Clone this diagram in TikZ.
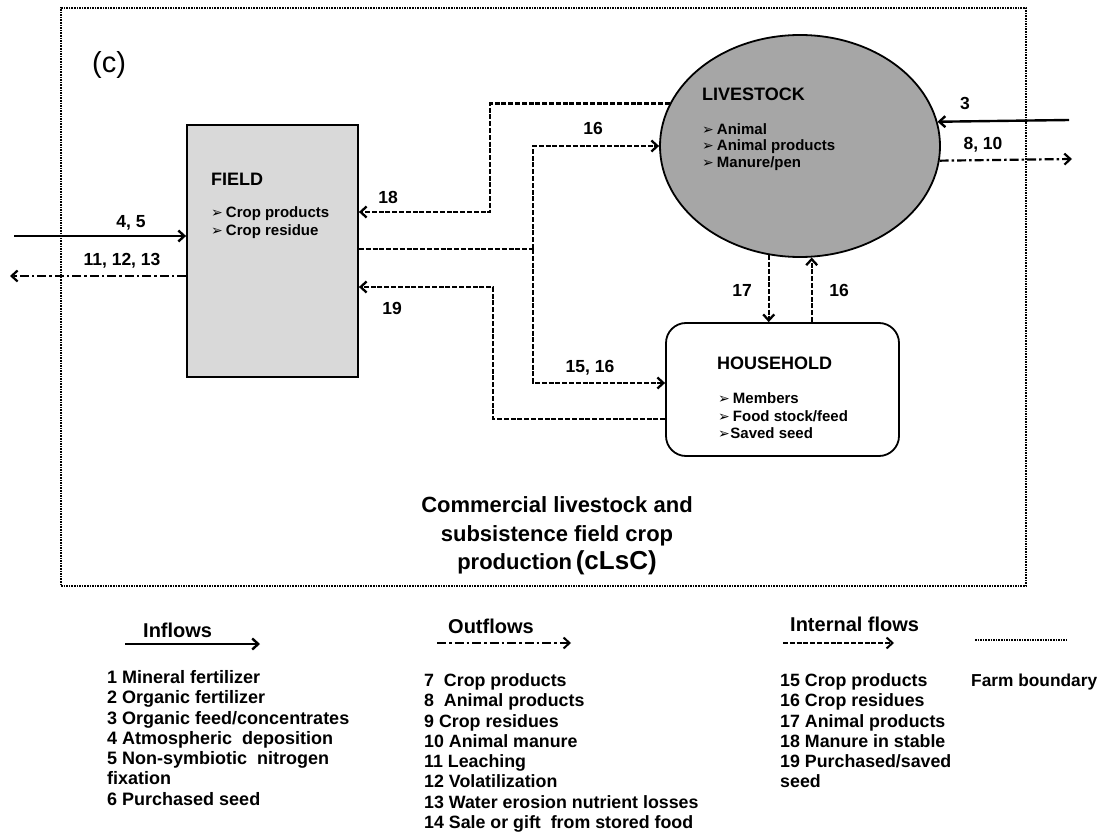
\documentclass[tikz,border=0pt]{standalone}
\usepackage{fontspec}
\setmainfont{Liberation Sans}
\newfontfamily\dingfont{DejaVu Sans}
\usetikzlibrary{arrows.meta,calc,shapes.geometric}
\definecolor{fieldgray}{RGB}{217,217,217}
\definecolor{livegray}{RGB}{166,166,166}
\newcommand{\bulglyph}{{\dingfont\fontsize{14}{12}\selectfont\symbol{"27A2}}}
\newcommand{\bul}{\bulglyph\hspace{3pt}}
\begin{document}
\begin{tikzpicture}[x=1pt,y=-1pt,
  tipx/.tip={Straight Barb[length=6pt,width=11pt]},
  solidarr/.style={line width=2.4pt,-tipx},
  dotarr/.style={line width=2.2pt,dash pattern=on 9pt off 3pt on 2.5pt off 3pt,-tipx},
  intline/.style={line width=2.3pt,dash pattern=on 5pt off 1.8pt},
  intarr/.style={intline,-tipx},
  bnd/.style={line width=2.6pt,dash pattern=on 1.6pt off 1pt},
  lbl/.style={font=\bfseries\fontsize{17.5}{20}\selectfont,inner sep=0pt},
  head/.style={font=\bfseries\fontsize{18}{20}\selectfont,inner sep=0pt,anchor=west},
  itm/.style={font=\bfseries\fontsize{15}{17}\selectfont,inner sep=0pt,anchor=west},
  lghead/.style={font=\bfseries\fontsize{20}{22}\selectfont,inner sep=0pt,anchor=west},
  inl/.style={font=\bfseries\fontsize{18}{20}\selectfont,inner sep=0pt,anchor=base west},
  outl/.style={font=\bfseries\fontsize{17.8}{19}\selectfont,inner sep=0pt,anchor=base west},
]
\useasboundingbox (0,0) rectangle (1109,834);

% farm boundary
\node[bnd,draw,minimum width=965pt,minimum height=578pt,inner sep=0pt] (farm) at (543.5,297) {};

% main boxes
\node[draw,line width=1.8pt,fill=fieldgray,minimum width=171pt,minimum height=252pt,inner sep=0pt] (field) at (272.5,251) {};
\node[draw,line width=1.8pt,fill=livegray,ellipse,minimum width=280pt,minimum height=222pt,inner sep=0pt] (live) at (800,146) {};
\node[draw,line width=1.8pt,rounded corners=20pt,fill=white,minimum width=233pt,minimum height=133pt,inner sep=0pt] (house) at (782.5,389.5) {};

% texts in boxes
\node[head] (fieldT) at (211,179) {FIELD};
\node[itm] (fieldI1) at (211,214) {\bul Crop products};
\node[itm] (fieldI2) at (211,232) {\bul Crop residue};

\node[head] (liveT) at (702,94) {LIVESTOCK};
\node[itm] (liveI1) at (702,129) {\bul Animal};
\node[itm] (liveI2) at (702,147) {\bul Animal products};
\node[itm] (liveI3) at (702,164) {\bul Manure/pen};

\node[head] (houseT) at (717,363) {HOUSEHOLD};
\node[itm] (houseI1) at (718,398) {\bul Members};
\node[itm] (houseI2) at (718,416) {\bul Food stock/feed};
\node[itm] (houseI3) at (718,433) {\bulglyph\hspace{0.5pt}Saved seed};

\node[font=\fontsize{29}{30}\selectfont,inner sep=0pt] (clab) at (109,65) {(c)};

% connectors
\coordinate (in45s) at (14,236);
\draw[solidarr] (in45s) -- (in45s -| field.west);
\coordinate (out1e) at (10,276);
\draw[dotarr] (out1e -| field.west) -- (out1e);

\coordinate (c18) at (490,212);
\draw[intarr] (live.162.5) -| (c18) -- (c18 -| field.east);

\coordinate (jn) at (533,249);
\coordinate (h1516) at (600,383);
\draw[intline] (jn -| field.east) -- (jn);
\draw[intarr] (jn) |- (live.west);
\draw[intarr] (jn) |- (house.west |- h1516);

\coordinate (c19) at (493,287);
\coordinate (h19) at (600,419);
\draw[intarr] (house.west |- h19) -| (c19) -- (c19 -| field.east);

\draw[intarr] (live.254.5) -- (live.254.5 |- house.north);
\draw[intarr] (live.276.7 |- house.north) -- (live.276.7);

\coordinate (s3) at (1069,120);
\draw[solidarr] (s3) -- (live.10.8);
\coordinate (e810) at (1072,159);
\draw[dotarr] (live.354.7) -- (e810);

% labels
\node[lbl] (l45) at (131,223) {4, 5};
\node[lbl] (l111213) at (122,261) {11, 12, 13};
\node[lbl] (l18) at (388,197) {18};
\node[lbl] (l16a) at (593,128) {16};
\node[lbl] (l19) at (392,308) {19};
\node[lbl] (l1516) at (590,368) {15, 16};
\node[lbl] (l17) at (742,290) {17};
\node[lbl] (l16b) at (839,290) {16};
\node[lbl] (l3) at (965,103) {3};
\node[lbl] (l810) at (983,145) {8, 10};

% title
\node[align=center,font=\bfseries\fontsize{22}{28.5}\selectfont,inner sep=0pt] (title) at (557,536)
  {Commercial livestock and\\subsistence field crop\\production\,{\fontsize{26}{28.5}\selectfont(cLsC)}};

% legend
\node[lghead] (inT) at (143,630) {Inflows};
\coordinate (inA) at (125,644);
\coordinate (inB) at (260,644);
\draw[solidarr] (inA) -- (inB);
\foreach \t [count=\i from 0] in {1 Mineral fertilizer,2 Organic fertilizer,3 Organic feed/concentrates,4 Atmospheric\ \ deposition,5 Non-symbiotic\ \ nitrogen,fixation,6 Purchased seed}
  \node[inl] (inl\i) at (107,{683.4+20.3*\i}) {\t};

\node[lghead] (outT) at (448,626) {Outflows};
\coordinate (outA) at (437,643);
\coordinate (outB) at (571,643);
\draw[dotarr,line width=2pt] (outA) -- (outB);
\foreach \t [count=\i from 0] in {7\ \ Crop products,8\ \ Animal products,9 Crop residues,10 Animal manure,11 Leaching,12 Volatilization,13 Water erosion nutrient losses,14 Sale or gift\ \ from stored food}
  \node[outl] (outl\i) at (424,{686.4+20.3*\i}) {\t};

\node[lghead] (intT) at (790,624) {Internal flows};
\coordinate (intA) at (783,643);
\coordinate (intB) at (894,643);
\draw[intarr,line width=2pt] (intA) -- (intB);
\foreach \t [count=\i from 0] in {15 Crop products,16 Crop residues,17 Animal products,18 Manure in stable,19 Purchased/saved,seed}
  \node[outl] (intl\i) at (780,{686.4+20.3*\i}) {\t};

\coordinate (fbA) at (975,640);
\coordinate (fbB) at (1067,640);
\draw[bnd,line width=2pt] (fbA) -- (fbB);
\node[outl,font=\bfseries\fontsize{17.3}{19}\selectfont] (fbT) at (971,686.4) {Farm boundary};
\end{tikzpicture}
\end{document}
